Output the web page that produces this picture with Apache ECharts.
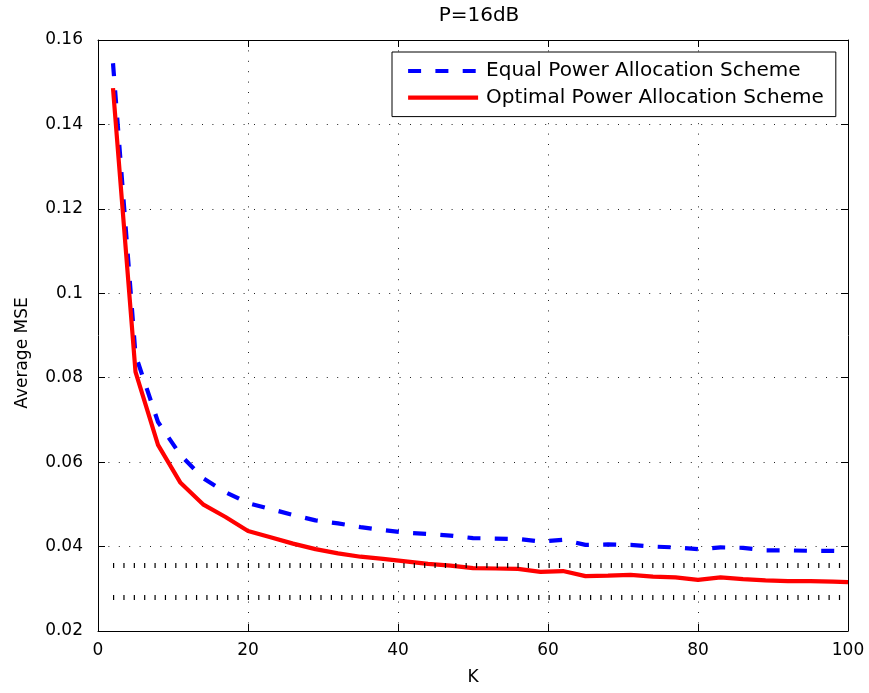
<!DOCTYPE html>
<html>
<head>
<meta charset="utf-8">
<script src="https://cdn.jsdelivr.net/npm/echarts@6/dist/echarts.min.js"></script>
<style>html,body{margin:0;padding:0;background:#fff}#c{width:869px;height:693px}</style>
</head>
<body>
<div id="c"></div>
<script>
const titleText = 'P=16dB';
const xName = 'K';
const yName = 'Average MSE';
const seriesNames = ['Equal Power Allocation Scheme', 'Optimal Power Allocation Scheme'];
const kValues = [2,5,8,11,14,17,20,23,26,29,32,35,38,41,44,47,50,53,56,59,62,65,68,71,74,77,80,83,86,89,92,95,98,100];
const equalMSE = [0.1545,0.0854,0.0695,0.0617,0.0562,0.0529,0.0503,0.0489,0.0475,0.0462,0.0455,0.0446,0.0439,0.0433,0.0430,0.0426,0.0420,0.0419,0.0418,0.0412,0.0416,0.0404,0.0405,0.0404,0.0400,0.0398,0.0394,0.0398,0.0397,0.0391,0.0391,0.0390,0.0390,0.0389];
const optimalMSE = [0.1486,0.0814,0.0641,0.0551,0.0500,0.0470,0.0437,0.0422,0.0407,0.0394,0.0384,0.0376,0.0371,0.0365,0.0359,0.0355,0.0349,0.0348,0.0347,0.0340,0.0342,0.0330,0.0331,0.0333,0.0329,0.0327,0.0321,0.0327,0.0323,0.0320,0.0318,0.0318,0.0317,0.0316];
const refLevels = [0.0355, 0.0281];
const refSpan = [2, 99];
const xTicks = {min: 0, max: 100, interval: 20};
const yTicks = {min: 0.02, max: 0.16, interval: 0.02};

const FONT = 'DejaVu Sans';
const chart = echarts.init(document.getElementById('c'), null, {renderer: 'canvas'});
const pairs = (xs, ys) => xs.map((x, i) => [x, ys[i]]);
const gridDots = {show: true, lineStyle: {color: '#222', width: 1, type: [1, 9.4]}};
const frameLine = {show: true, onZero: false, lineStyle: {color: '#000', width: 1}};
const tickIn = {show: true, inside: true, length: 7, lineStyle: {color: '#000'}};

chart.setOption({
  animation: false,
  backgroundColor: '#fff',
  title: {text: titleText, left: 474, top: 1, textAlign: 'center',
    textStyle: {fontFamily: FONT, fontSize: 20, fontWeight: 'normal', color: '#000'}},
  grid: {left: 98, right: 21, top: 40, bottom: 62},
  legend: {
    orient: 'vertical', left: 392, top: 52,
    data: seriesNames,
    backgroundColor: '#fff', borderColor: '#000', borderWidth: 1, borderRadius: 0,
    padding: [9, 12, 9, 14], itemGap: 6.6, itemWidth: 70, itemHeight: 20,
    itemStyle: {opacity: 0},
    lineStyle: {width: 4.2},
    textStyle: {fontFamily: FONT, fontSize: 20, color: '#000', padding: [0, 0, 0, 3]}
  },
  xAxis: [
    {type: 'value', min: xTicks.min, max: xTicks.max, interval: xTicks.interval,
      name: xName, nameLocation: 'middle', nameGap: 38,
      nameTextStyle: {fontFamily: FONT, fontSize: 17, color: '#000'},
      axisLine: frameLine, axisTick: tickIn, splitLine: gridDots,
      axisLabel: {fontFamily: FONT, fontSize: 17, color: '#000', margin: 11}},
    {type: 'value', position: 'top', min: xTicks.min, max: xTicks.max, interval: xTicks.interval,
      axisLine: frameLine, axisTick: tickIn, splitLine: {show: false}, axisLabel: {show: false}}
  ],
  yAxis: [
    {type: 'value', min: yTicks.min, max: yTicks.max, interval: yTicks.interval,
      axisLine: frameLine, axisTick: tickIn, splitLine: gridDots,
      axisLabel: {fontFamily: FONT, fontSize: 17, color: '#000', margin: 15,
        formatter: v => String(+v.toFixed(2))}},
    {type: 'value', position: 'right', min: yTicks.min, max: yTicks.max, interval: yTicks.interval,
      axisLine: frameLine, axisTick: tickIn, splitLine: {show: false}, axisLabel: {show: false}}
  ],
  graphic: [{type: 'text', x: 23, y: 353, rotation: Math.PI / 2,
    style: {text: yName, fontFamily: FONT, fontSize: 17, fill: '#000', align: 'center', verticalAlign: 'middle'}}],
  series: [
    {name: seriesNames[0], type: 'line', data: pairs(kValues, equalMSE), showSymbol: false, symbol: 'none',
      lineStyle: {color: '#0000ff', width: 4.2, type: [13, 14.3]}, itemStyle: {color: '#0000ff'}, z: 3},
    {name: seriesNames[1], type: 'line', data: pairs(kValues, optimalMSE), showSymbol: false, symbol: 'none',
      lineStyle: {color: '#ff0000', width: 4.2, type: 'solid'}, itemStyle: {color: '#ff0000'}, z: 4,
      markLine: {silent: true, symbol: ['none', 'none'], label: {show: false}, animation: false,
        lineStyle: {color: '#000', width: 5, type: [1.2, 9.17], opacity: 1},
        emphasis: {disabled: true},
        data: refLevels.map(v => [{coord: [refSpan[0], v]}, {coord: [refSpan[1], v]}])}}
  ]
});
</script>
</body>
</html>
